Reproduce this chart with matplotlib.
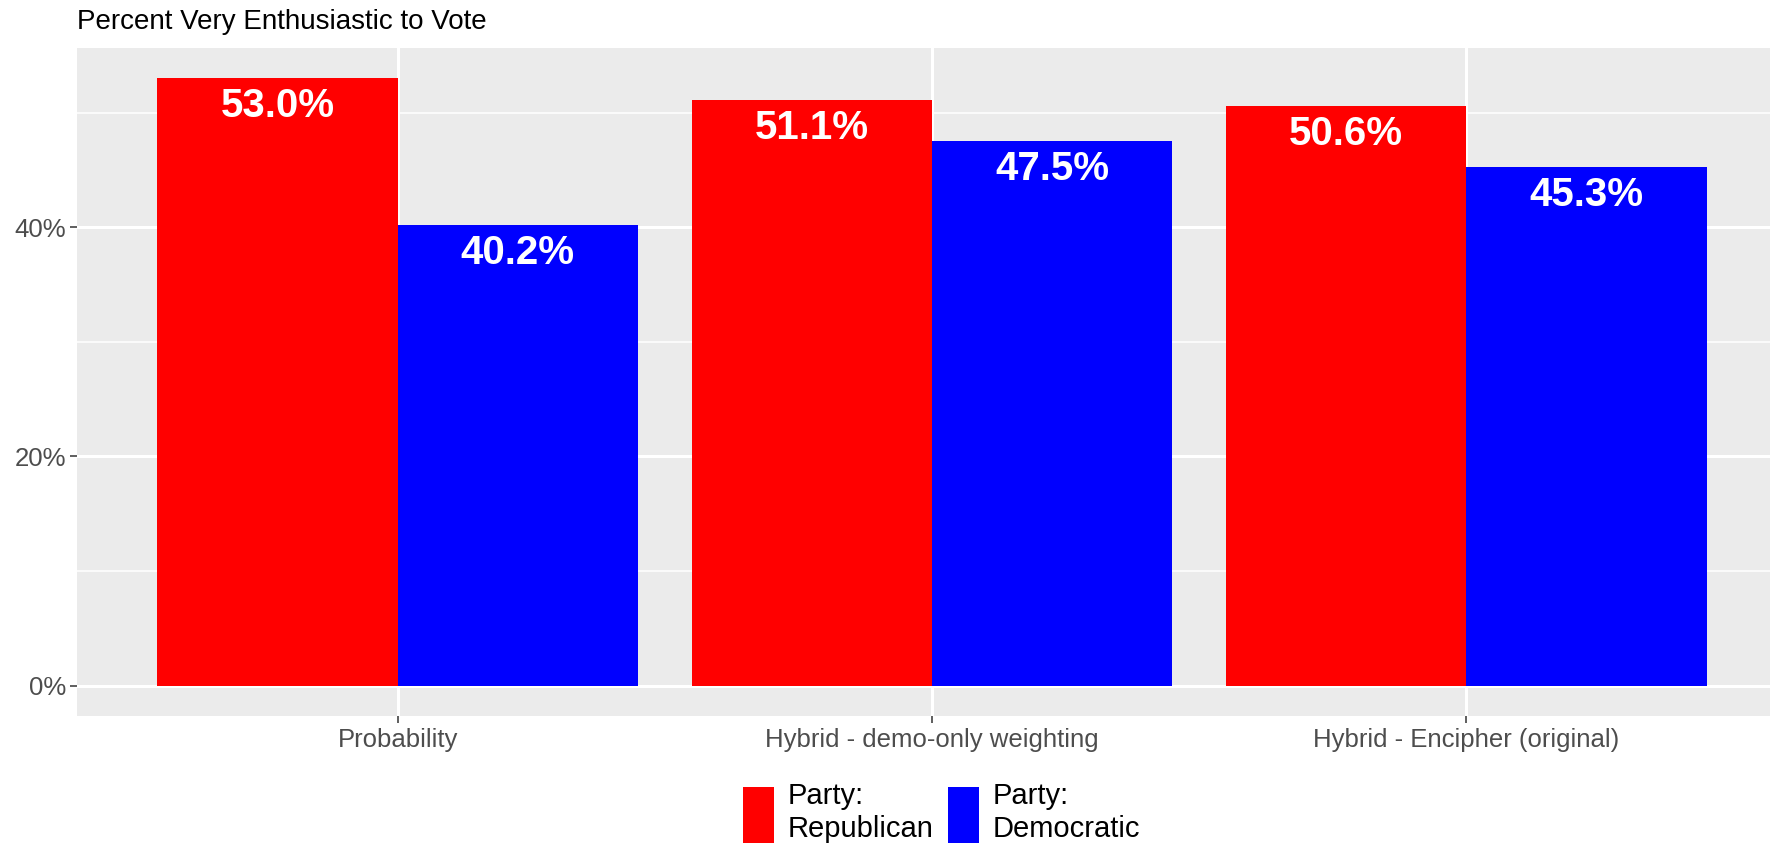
import matplotlib
matplotlib.use("Agg")
import matplotlib.pyplot as plt
import numpy as np
from matplotlib.patches import Patch

plt.rcParams['font.family'] = ['Liberation Sans', 'DejaVu Sans']

# data
methods = ["Probability", "Hybrid - demo-only weighting", "Hybrid - Encipher (original)"]
republican = [53.0, 51.1, 50.6]
democratic = [40.2, 47.5, 45.3]
parties = ["Party:\nRepublican", "Party:\nDemocratic"]
colors = ["#FF0000", "#0000FF"]
y_ticks = [0, 20, 40]
y_minor = [10, 30, 50]

W, H = 1770, 844
fig = plt.figure(figsize=(W / 100, H / 100), dpi=100)
# panel from x=77 to 1787 px (cropped on the right), y=48 to 716 px
ax = fig.add_axes([77 / W, (H - 716) / H, (1787 - 77) / W, (716 - 48) / H])
ax.set_facecolor("#EBEBEB")

x = np.arange(1, len(methods) + 1)
bw = 0.45
for vals, off, col in [(republican, -bw / 2, colors[0]), (democratic, bw / 2, colors[1])]:
    ax.bar(x + off, vals, width=bw, color=col, zorder=3)
    for xi, v in zip(x + off, vals):
        ax.text(xi, v - 2.45, f"{v:.1f}%", ha="center", va="center",
                color="white", fontsize=29, fontweight="bold", zorder=4)

ax.set_xlim(0.4, 3.6)
ax.set_ylim(-2.65, 55.65)
ax.set_yticks(y_ticks)
ax.set_yticklabels([f"{t}%" for t in y_ticks])
ax.set_yticks(y_minor, minor=True)
ax.set_xticks(x)
ax.set_xticklabels(methods)

ax.grid(which="major", color="white", linewidth=2.2, zorder=0)
ax.grid(which="minor", axis="y", color="white", linewidth=1.1, zorder=0)
ax.set_axisbelow(True)
for s in ax.spines.values():
    s.set_visible(False)
ax.tick_params(which="major", length=5, width=1.1, color="#333333",
               labelcolor="#4D4D4D", labelsize=18.5, pad=3)
ax.tick_params(axis="x", pad=4)
ax.tick_params(which="minor", length=0)

fig.text(77 / W, 1 - 29 / H, "Percent Very Enthusiastic to Vote",
         fontsize=20, color="black", ha="left", va="baseline")

handles = [Patch(facecolor=c, edgecolor="none") for c in colors]
fig.legend(handles, parties, loc="lower center", bbox_to_anchor=(0.532, -0.023),
           ncol=2, frameon=False, fontsize=21, handlelength=1.06, handleheight=2.6,
           handletextpad=0.48, columnspacing=0.5, labelspacing=0.1, borderpad=0.2)

fig.savefig("out.png", dpi=100)
